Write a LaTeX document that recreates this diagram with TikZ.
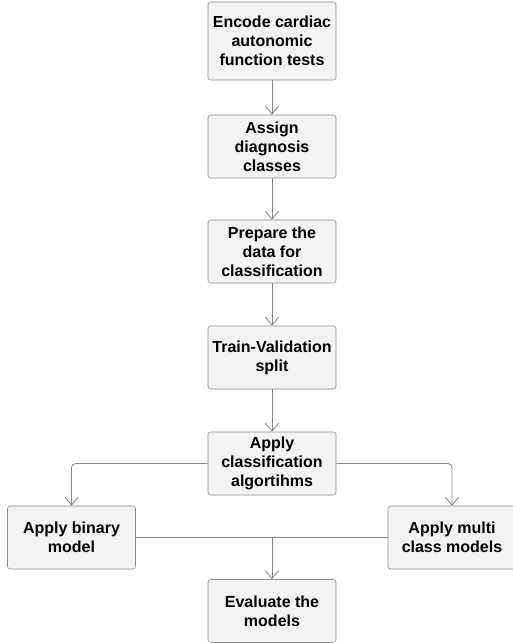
\documentclass[tikz,border=0pt]{standalone}
\usepackage{fontspec}
\setmainfont{Liberation Sans}
\usetikzlibrary{arrows.meta}
\definecolor{boxfill}{HTML}{F2F3F5}
\definecolor{boxline}{HTML}{8E8E8E}
\definecolor{flowline}{HTML}{858585}
\tikzset{
  stepbox/.style={draw=boxline, fill=boxfill, rounded corners=2pt,
    minimum width=96pt, minimum height=47.25pt, inner sep=2pt, align=center,
    font=\fontsize{12}{14.25}\selectfont\bfseries},
  flow/.style={draw=flowline, line width=0.6pt, -{Straight Barb[length=6pt,width=10pt]}}
}
\begin{document}
\begin{tikzpicture}[x=0.75pt,y=-0.75pt]
  \useasboundingbox (0,0) rectangle (512,643);
  \node[stepbox, minimum height=58.5pt] (enc) at (272,41) {Encode cardiac\\autonomic\\function tests};
  \node[stepbox] (assign) at (272,146.5) {Assign\\diagnosis\\classes};
  \node[stepbox] (prep) at (272,251.5) {Prepare the\\data for\\classification};
  \node[stepbox] (split) at (272,357.5) {Train-Validation\\split};
  \node[stepbox] (apply) at (272,463.5) {Apply\\classification\\algortihms};
  \node[stepbox] (bin) at (71.5,537.5) {Apply binary\\model};
  \node[stepbox] (multi) at (452,537.5) {Apply multi\\class models};
  \node[stepbox] (eval) at (272,611) {Evaluate the\\models};
  \coordinate (join) at (bin.east -| eval.north);
  \path[flow]
    (enc) edge (assign) (assign) edge (prep)
    (prep) edge (split) (split) edge (apply);
  \draw[flow, rounded corners=3pt] (apply.west) -| (bin.north);
  \draw[flow, rounded corners=3pt] (apply.east) -| (multi.north);
  % both models meet before the evaluation
  \draw[flowline, line width=0.6pt] (bin.east) -- (multi.west);
  \draw[flow] (join) -- (eval.north);
\end{tikzpicture}
\end{document}
